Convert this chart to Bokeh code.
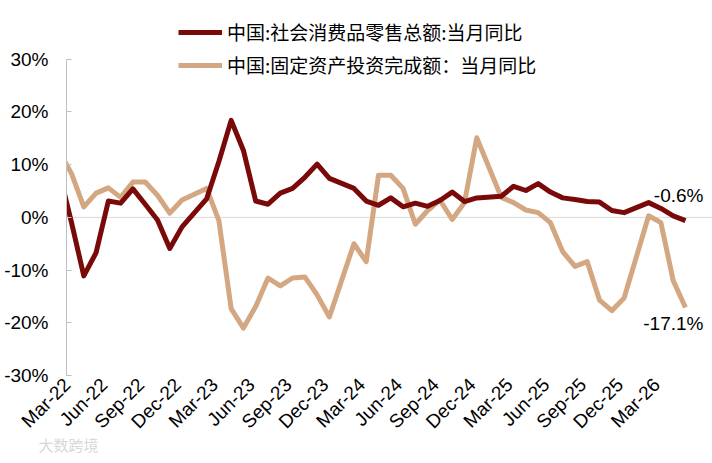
from datetime import datetime
from bokeh.plotting import figure
from bokeh.models import FixedTicker, Span, Label, Legend, LegendItem, Range1d, Title
from bokeh.embed import file_html
from bokeh.resources import INLINE

# ---- data (January figures are not published separately; months list skips them) ----
months = [
    "2022-02", "2022-03", "2022-04", "2022-05", "2022-06", "2022-07", "2022-08", "2022-09", "2022-10", "2022-11", "2022-12",
    "2023-02", "2023-03", "2023-04", "2023-05", "2023-06", "2023-07", "2023-08", "2023-09", "2023-10", "2023-11", "2023-12",
    "2024-02", "2024-03", "2024-04", "2024-05", "2024-06", "2024-07", "2024-08", "2024-09", "2024-10", "2024-11", "2024-12",
    "2025-02", "2025-03", "2025-04", "2025-05", "2025-06", "2025-07", "2025-08", "2025-09", "2025-10", "2025-11", "2025-12",
    "2026-02", "2026-03", "2026-04", "2026-05",
]
retail = [
    8.5, -1.0, -11.1, -6.7, 3.1, 2.7, 5.4, 2.5, -0.5, -5.9, -1.8,
    3.5, 10.6, 18.4, 12.7, 3.1, 2.5, 4.6, 5.5, 7.6, 10.1, 7.4,
    5.5, 3.1, 2.3, 3.7, 2.0, 2.7, 2.1, 3.2, 4.8, 3.0, 3.7,
    4.0, 5.9, 5.1, 6.4, 4.8, 3.7, 3.4, 3.0, 2.9, 1.3, 0.9,
    2.8, 1.7, 0.3, -0.6,
]
fai = [
    12.5, 8.3, 2.0, 4.6, 5.6, 3.8, 6.7, 6.7, 4.2, 0.8, 3.3,
    5.5, -0.6, -17.3, -21.0, -16.9, -11.5, -13.0, -11.5, -11.3, -14.7, -18.9,
    -5.0, -8.4, 8.0, 8.0, 5.5, -1.3, 1.3, 3.3, -0.4, 2.8, 15.1,
    3.8, 2.8, 1.4, 0.9, -1.0, -6.5, -9.3, -8.4, -15.7, -17.7, -15.3,
    0.3, -1.0, -12.0, -17.1,
]
tick_labels = ["Mar-22", "Jun-22", "Sep-22", "Dec-22", "Mar-23", "Jun-23", "Sep-23", "Dec-23",
               "Mar-24", "Jun-24", "Sep-24", "Dec-24", "Mar-25", "Jun-25", "Sep-25", "Dec-25", "Mar-26"]
y_ticks = [-30, -20, -10, 0, 10, 20, 30]
series_names = ["中国:社会消费品零售总额:当月同比", "中国:固定资产投资完成额：当月同比"]

RED = "#7A0A0A"
TAN = "#D4A783"
NUM_FONT = "Liberation Sans"
CJK_FONT = "Noto Sans CJK SC"
LABEL_SHIFT = -0.35  # nudge rotated month labels so their ends sit at the month


def month_index(d):
    return (d.year - 2022) * 12 + d.month - 3


x = [month_index(datetime.strptime(m, "%Y-%m")) for m in months]
tick_x = [month_index(datetime.strptime(t, "%b-%y")) + LABEL_SHIFT for t in tick_labels]

p = figure(width=712, height=463, output_backend="svg", toolbar_location=None,
           x_range=Range1d(-0.41, 52.2), y_range=Range1d(-30, 41.15),
           min_border_left=66, min_border_right=0, min_border_top=0, min_border_bottom=88)
p.outline_line_color = None
p.xgrid.visible = False
p.ygrid.visible = False

# zero line
p.add_layout(Span(location=0, dimension="width", line_color="#D9D9D9", line_width=1, level="underlay"))

r2 = p.line(x, fai, line_color=TAN, line_width=5, line_join="round")
r1 = p.line(x, retail, line_color=RED, line_width=5, line_join="round")

# axes
xa = p.xaxis[0]
xa.ticker = FixedTicker(ticks=tick_x)
xa.major_label_overrides = {t: l for t, l in zip(tick_x, tick_labels)}
xa.major_label_orientation = 0.785398
xa.axis_line_color = None
xa.major_tick_line_color = None
xa.minor_tick_line_color = None
xa.major_label_text_font = NUM_FONT
xa.major_label_text_font_size = "19px"
xa.major_label_text_color = "black"
xa.major_label_standoff = 0

ya = p.yaxis[0]
ya.ticker = FixedTicker(ticks=y_ticks)
ya.bounds = (min(y_ticks), max(y_ticks))
ya.major_label_overrides = {t: f"{t}%" for t in y_ticks}
ya.axis_line_color = "#BFBFBF"
ya.major_tick_line_color = "#BFBFBF"
ya.major_tick_in = 5
ya.major_tick_out = 0
ya.minor_tick_line_color = None
ya.major_label_text_font = NUM_FONT
ya.major_label_text_font_size = "19px"
ya.major_label_text_color = "black"
ya.major_label_standoff = 18

# end-value annotations
p.add_layout(Label(x=x[-1], y=retail[-1], text=f"{retail[-1]}%", x_offset=18, y_offset=25,
                   text_align="right", text_baseline="middle", text_font=NUM_FONT,
                   text_font_size="19px", text_color="black"))
p.add_layout(Label(x=x[-1], y=fai[-1], text=f"{fai[-1]}%", x_offset=18, y_offset=-16,
                   text_align="right", text_baseline="middle", text_font=NUM_FONT,
                   text_font_size="19px", text_color="black"))

legend = Legend(items=[LegendItem(label=series_names[0], renderers=[r1]),
                       LegendItem(label=series_names[1], renderers=[r2])],
                location=(112, 297), orientation="vertical",
                background_fill_alpha=0, border_line_color=None, padding=0, margin=0,
                spacing=6, glyph_width=44, glyph_height=20, label_height=20, label_standoff=5,
                label_text_font=CJK_FONT, label_text_font_size="19px", label_text_color="black",
                label_text_baseline="middle")
p.add_layout(legend)

# faint watermark
p.add_layout(Title(text="大数跨境", align="left", offset=-28, standoff=-24,
                   text_font=CJK_FONT, text_font_size="15px", text_font_style="normal",
                   text_color="#D8D8D8"), "below")

open("out.html", "w").write(file_html(p, INLINE))
